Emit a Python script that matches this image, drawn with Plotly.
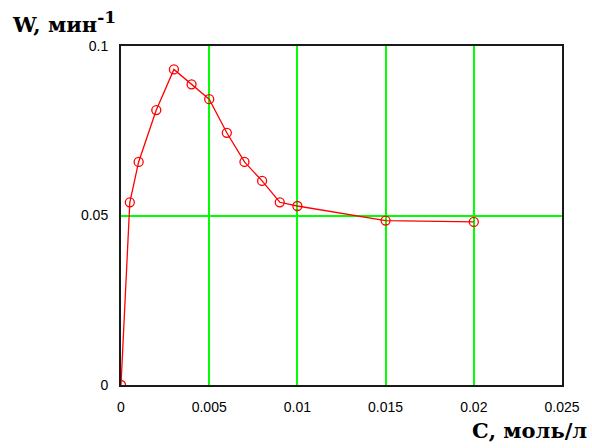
import plotly.graph_objects as go

# Concentration C (mol/L) and reaction rate W (1/min)
conc = [0.0, 0.0005, 0.001, 0.002, 0.003, 0.004, 0.005, 0.006, 0.007,
        0.008, 0.009, 0.010, 0.015, 0.020]
rate = [0.0, 0.0539, 0.0658, 0.0811, 0.0931, 0.0887, 0.0843, 0.0744,
        0.0658, 0.0602, 0.0539, 0.0528, 0.0485, 0.0481]

x_ticks = [0, 0.005, 0.01, 0.015, 0.02, 0.025]
x_tick_text = ["0", "0.005", "0.01", "0.015", "0.02", "0.025"]
y_ticks = [0, 0.05, 0.1]
y_tick_text = ["0", "0.05", "0.1"]

RED = "#ff0000"
GREEN = "#00ff00"
FRAME = "#1a1a1a"
tick_font = dict(family="Liberation Sans, Arial, sans-serif", size=14, color="#000000")
label_font = dict(family="DejaVu Serif, serif", size=21, color="#000000")

# plot area in pixels
L, R, T, B = 121, 20, 46, 63
PW, PH = 592 - L - R, 448 - T - B

fig = go.Figure()
fig.add_trace(go.Scatter(
    x=conc, y=rate, mode="lines+markers",
    line=dict(color=RED, width=1.3),
    marker=dict(symbol="circle-open", size=9, color=RED, line=dict(width=1.3, color=RED)),
    cliponaxis=True,
    showlegend=False,
))

fig.update_layout(
    width=592, height=448,
    margin=dict(l=L, r=R, t=T, b=B),
    paper_bgcolor="#ffffff", plot_bgcolor="#ffffff",
    xaxis=dict(
        range=[0, 0.025], tickvals=x_ticks, ticktext=x_tick_text,
        showgrid=True, gridcolor=GREEN, gridwidth=2, zeroline=False,
        showline=True, mirror=True, linecolor=FRAME, linewidth=2,
        ticks="", ticklabelstandoff=8, tickfont=tick_font,
    ),
    yaxis=dict(
        range=[0, 0.1], tickvals=y_ticks, ticktext=y_tick_text,
        showgrid=True, gridcolor=GREEN, gridwidth=2, zeroline=False,
        showline=True, mirror=True, linecolor=FRAME, linewidth=2,
        ticks="", ticklabelstandoff=8, tickfont=tick_font,
    ),
    annotations=[
        dict(text="<b>W, мин<sup><span style='font-size:17px'>-1</span></sup></b>",
             xref="paper", yref="paper",
             x=(7 - L) / PW, y=1 + (T - 22) / PH, xanchor="left", yanchor="middle",
             showarrow=False, font=label_font),
        dict(text="<b>С, моль/л</b>", xref="paper", yref="paper",
             x=(478 - L) / PW, y=-(431 - (448 - B)) / PH, xanchor="left", yanchor="middle",
             showarrow=False, font=label_font),
    ],
)

fig.write_html("out.html")
